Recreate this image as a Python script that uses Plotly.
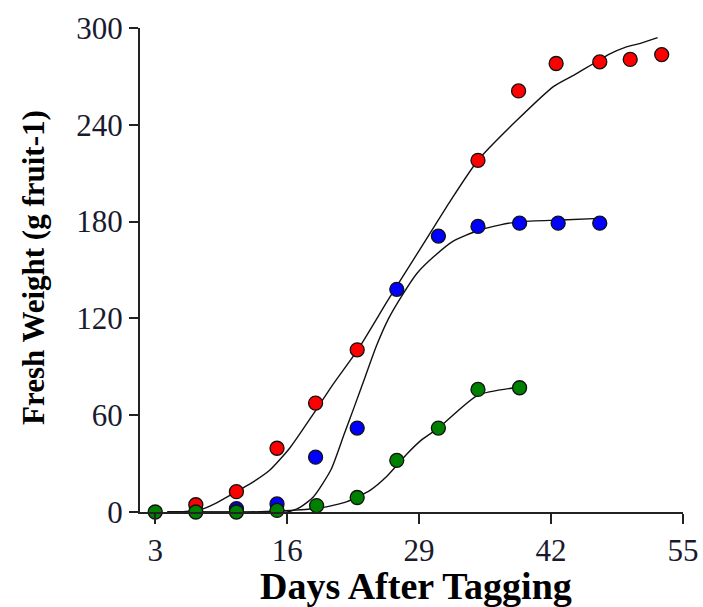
import plotly.graph_objects as go

# ---- data ----
red_x = [7, 11, 15, 18.8, 22.9, 34.8, 38.8, 42.5, 46.8, 49.8, 52.9]
red_y = [4.5, 12.6, 39.5, 67.5, 100.5, 218, 261, 278, 279, 280.5, 283.5]

blue_x = [11, 15, 18.8, 22.9, 26.8, 30.9, 34.8, 38.9, 42.7, 46.8]
blue_y = [2, 5, 34, 52, 138, 171, 177, 179, 179, 179]

green_x = [3, 7, 11, 15, 18.9, 22.9, 26.8, 30.9, 34.8, 38.9]
green_y = [0, 0, 0, 1, 4, 9, 32, 52, 76, 77]

# fitted curves
red_fit_x = [4.2, 6, 7.5, 9, 10.7, 12.5, 14.3, 16.3, 18.6, 20.5, 23, 25.9, 28.1, 30.1,
             32.1, 34.8, 38.5, 42.3, 44.3, 46.2, 47.8, 49.3, 50.8, 52.5]
red_fit_y = [0, 0.3, 1.5, 5.5, 11.5, 18, 26, 40, 61, 79, 101, 131, 153, 173,
             193, 218, 242, 264, 271, 278, 284, 288, 290.5, 294]

blue_fit_x = [4.2, 10, 16, 17.3, 18.6, 20.3, 21.6, 22.6, 23.7, 24.8, 26, 27.5, 28.8,
              30.4, 32.4, 34.8, 37, 39, 43, 46.8]
blue_fit_y = [0, 0, 0, 3, 9.5, 26, 48, 65, 84, 103, 120, 136, 148,
              158, 168, 174.5, 178, 180, 181, 182]

green_fit_x = [4.2, 12, 16.3, 19.3, 21.9, 24.2, 25.8, 27.8, 29.3, 30.9, 34.8, 39]
green_fit_y = [0, 0, 1, 2.5, 6.4, 13.6, 22, 36, 45, 52, 72.4, 77.5]

x_ticks = [3, 16, 29, 42, 55]
y_ticks = [0, 60, 120, 180, 240, 300]

x_title = "Days After Tagging"
y_title = "Fresh Weight (g fruit-1)"

FONT = "Liberation Serif, Times New Roman, serif"

fig = go.Figure()

for fx, fy in [(red_fit_x, red_fit_y), (blue_fit_x, blue_fit_y), (green_fit_x, green_fit_y)]:
    fig.add_trace(go.Scatter(
        x=fx, y=fy, mode="lines",
        line=dict(color="#111111", width=1.4, shape="spline", smoothing=0.6),
        showlegend=False, hoverinfo="skip", cliponaxis=False,
    ))

for xs, ys, col in [(red_x, red_y, "#FF0000"), (blue_x, blue_y, "#0000FF"),
                    (green_x, green_y, "#008000")]:
    fig.add_trace(go.Scatter(
        x=xs, y=ys, mode="markers",
        marker=dict(symbol="circle", size=14, color=col,
                    line=dict(color="#111111", width=1.3)),
        showlegend=False, cliponaxis=False,
    ))

fig.update_xaxes(
    range=[1.5, 55], tickvals=x_ticks, ticktext=[str(t) for t in x_ticks],
    showline=True, linecolor="#222222", linewidth=2,
    ticks="outside", ticklen=10, tickwidth=2, tickcolor="#222222",
    showgrid=False, zeroline=False, automargin=False,
    tickfont=dict(family=FONT, size=31, color="#1a1a2e"),
)
fig.update_yaxes(
    range=[0, 300], tickvals=y_ticks, ticktext=[str(t) for t in y_ticks],
    showline=True, linecolor="#222222", linewidth=2,
    ticks="outside", ticklen=9, tickwidth=2, tickcolor="#222222",
    showgrid=False, zeroline=False, automargin=False,
    tickfont=dict(family=FONT, size=31, color="#1a1a2e"),
)

# plot area in window pixels: x 140..683, y 28..512
fig.add_annotation(
    text="<b>%s</b>" % x_title, xref="paper", yref="paper",
    x=(416 - 140) / (683 - 140), y=-(586 - 512) / (512 - 28),
    xanchor="center", yanchor="middle", showarrow=False,
    font=dict(family=FONT, size=38, color="#000000"),
)
fig.add_annotation(
    text="<b>%s</b>" % y_title, xref="paper", yref="paper",
    x=-(140 - 33) / (683 - 140), y=(512 - 268) / (512 - 28),
    xanchor="center", yanchor="middle", textangle=-90, showarrow=False,
    font=dict(family=FONT, size=31, color="#000000"),
)

fig.update_layout(
    width=703, height=607,
    margin=dict(l=140, r=20, t=28, b=95, autoexpand=False),
    paper_bgcolor="white", plot_bgcolor="white",
    showlegend=False,
)

# remove the default page margin so the figure fills the 703x607 window exactly
fig.write_html(
    "out.html",
    config={"displayModeBar": False, "staticPlot": True},
    post_script="document.body.style.margin='0';document.body.style.overflow='hidden';",
)
